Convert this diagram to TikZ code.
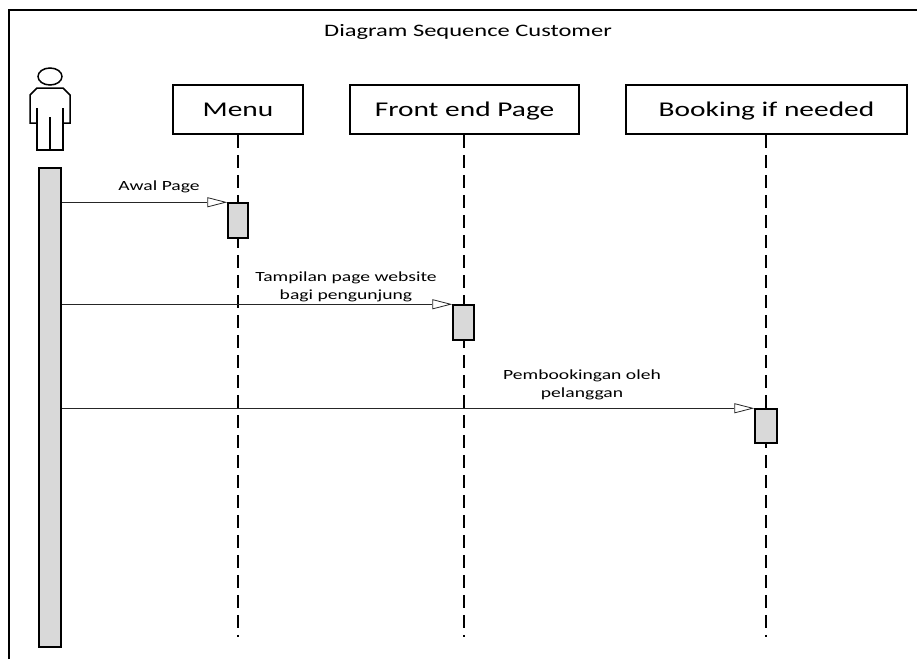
\documentclass[tikz,border=0pt]{standalone}
\usepackage{fontspec}
\setmainfont{Carlito}[FakeStretch=1.4]
\usetikzlibrary{arrows.meta,calc}
\tikzset{
  frameline/.style={line width=1.8pt, black},
  lifebox/.style={draw, line width=1.6pt, minimum height=49pt, inner sep=0pt,
    font=\fontsize{21}{25}\selectfont, text height=13.5pt, text depth=0pt},
  lifeline/.style={line width=1.4pt, dash pattern=on 13pt off 7pt},
  actbox/.style={draw, line width=1.5pt, fill=gray!30, minimum width=20pt, inner sep=0pt},
  actorline/.style={line width=1.5pt, line join=miter},
  msg/.style={line width=0.8pt, black!85, -{Triangle[length=20pt,width=10pt,fill=white]}},
  lbl/.style={font=\fontsize{14}{18}\selectfont, align=center, inner sep=0pt, text depth=0pt},
}
\begin{document}
\begin{tikzpicture}[x=1pt,y=-1pt]
\useasboundingbox (0,0) rectangle (917,659);
% frame
\draw[frameline] (9,659) -- (9,10) -- (917,10);
\node[font=\fontsize{17.5}{21}\selectfont, anchor=base, inner sep=0pt] (title) at (468,36) {Diagram Sequence Customer};
% actor figure
\draw[actorline] (50,76.5) ellipse [x radius=12pt, y radius=8.5pt];
\draw[actorline] (37,108) -- (37,150) -- (63,150) -- (63,108);
\draw[actorline] (37,123) -- (30,123) -- (30,95) -- (37,88) -- (63,88) -- (70,95) -- (70,123) -- (63,123);
\draw[actorline] (50,117) -- (50,150);
% actor activation bar
\node[actbox, minimum width=22pt, minimum height=479pt] (actor) at (50,407.5) {};
% lifeline heads
\node[lifebox, minimum width=130pt] (menu) at (238,109.5) {Menu};
\node[lifebox, minimum width=229pt] (front) at (464.5,109.5) {Front end Page};
\node[lifebox, minimum width=281pt] (book) at (766.5,109.5) {Booking if needed};
% lifeline ends
\coordinate (menuend) at (238,637);
\coordinate (frontend) at (464,637);
\coordinate (bookend) at (766,637);
\draw[lifeline] (menu.south) -- (menuend);
\draw[lifeline] (front.south -| frontend) -- (frontend);
\draw[lifeline] (book.south -| bookend) -- (bookend);
% activations
\node[actbox, minimum width=20pt, minimum height=35pt] (menuact) at (238,220.5) {};
\node[actbox, minimum width=21pt, minimum height=35pt] (frontact) at (463.5,322.5) {};
\node[actbox, minimum width=22pt, minimum height=34pt] (bookact) at (766,426) {};
% messages
\draw[msg] (actor.east |- menuact.north west) -- (menuact.north west);
\draw[msg] (actor.east |- frontact.north west) -- (frontact.north west);
\draw[msg] (actor.east |- bookact.north west) -- (bookact.north west);
% labels
\node[lbl, anchor=base] (l1) at (159,190) {Awal Page};
\node[lbl, anchor=south] (l2) at (346,300) {Tampilan page website\\bagi pengunjung};
\node[lbl, anchor=south] (l3) at (582,398) {Pembookingan oleh\\pelanggan};
\end{tikzpicture}
\end{document}
